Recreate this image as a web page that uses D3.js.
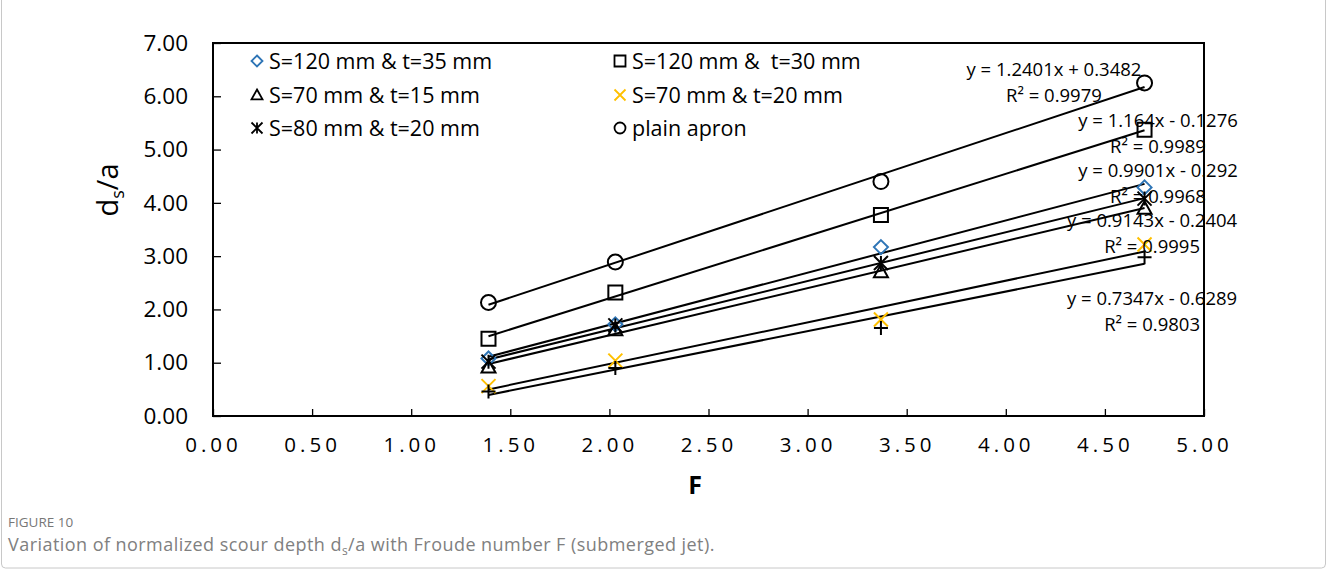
<!DOCTYPE html>
<html>
<head>
<meta charset="utf-8">
<script src="https://cdn.jsdelivr.net/npm/d3@7"></script>
<style>
  body { margin: 0; background: #fff; }
  text { font-family: "Open Sans", "Noto Sans", sans-serif; }
</style>
</head>
<body>
<div id="chart"></div>
<script>
/* ---------------------------------------------- Data ---------------------------------------------- */

const froude = [1.39, 2.03, 3.37, 4.70];

const seriesNames = [
    "S=120 mm & t=35 mm",
    "S=120 mm &  t=30 mm",
    "S=70 mm & t=15 mm",
    "S=70 mm & t=20 mm",
    "S=80 mm & t=20 mm",
    "plain apron",
    "plain 2"
];

const diamondValues  = [1.08, 1.72, 3.17, 4.29];
const squareValues   = [1.45, 2.32, 3.77, 5.37];
const triangleValues = [0.92, 1.62, 2.71, 3.90];
const crossValues    = [0.56, 1.04, 1.81, 3.22];
const asteriskValues = [1.02, 1.70, 2.87, 4.08];
const circleValues   = [2.13, 2.89, 4.40, 6.25];
const plusValues     = [0.46, 0.90, 1.65, 2.98];

const xTicks = [0, 0.5, 1, 1.5, 2, 2.5, 3, 3.5, 4, 4.5, 5];
const yTicks = [0, 1, 2, 3, 4, 5, 6, 7];

// trendline labels as printed on the chart
const eqLines = [
    ["y = 1.2401x + 0.3482", "R² = 0.9979"],
    ["y = 1.164x - 0.1276", "R² = 0.9989"],
    ["y = 0.9901x - 0.292", "R² = 0.9968"],
    ["y = 0.9143x - 0.2404", "R² = 0.9995"],
    ["y = 0.7347x - 0.6289", "R² = 0.9803"]
];
const eqAnchorX = [4.243, 4.768, 4.768, 4.738, 4.738];
const eqAnchorY = [6.493, 5.554, 4.616, 3.665, 2.196];

/* ---------------------------------------------- Markers ---------------------------------------------- */

function markerPath(kind, r) {
    const p = d3.path();
    if (kind === "diamond") {
        p.moveTo(0, -r); p.lineTo(r, 0); p.lineTo(0, r); p.lineTo(-r, 0); p.closePath();
    } else if (kind === "square") {
        p.rect(-r, -r, 2 * r, 2 * r);
    } else if (kind === "triangle") {
        p.moveTo(0, -r); p.lineTo(r, r * 0.8); p.lineTo(-r, r * 0.8); p.closePath();
    } else if (kind === "cross") {
        p.moveTo(-r, -r); p.lineTo(r, r); p.moveTo(r, -r); p.lineTo(-r, r);
    } else if (kind === "asterisk") {
        p.moveTo(-r, -r); p.lineTo(r, r); p.moveTo(r, -r); p.lineTo(-r, r);
        p.moveTo(0, -r); p.lineTo(0, r);
    } else if (kind === "circle") {
        p.arc(0, 0, r, 0, 2 * Math.PI);
    } else if (kind === "plus") {
        p.moveTo(-r, 0); p.lineTo(r, 0); p.moveTo(0, -r); p.lineTo(0, r);
    }
    return p.toString();
}

const series = [
    { name: seriesNames[0], values: diamondValues, kind: "diamond", color: "#2E75B6", r: 7, legend: [0, 0] },
    { name: seriesNames[1], values: squareValues, kind: "square", color: "#000", r: 7, legend: [1, 0] },
    { name: seriesNames[2], values: triangleValues, kind: "triangle", color: "#000", r: 7, legend: [0, 1] },
    { name: seriesNames[3], values: crossValues, kind: "cross", color: "#FFC000", r: 7, legend: [1, 1] },
    { name: seriesNames[4], values: asteriskValues, kind: "asterisk", color: "#000", r: 7, legend: [0, 2] },
    { name: seriesNames[5], values: circleValues, kind: "circle", color: "#000", r: 7.5, legend: [1, 2] },
    { name: seriesNames[6], values: plusValues, kind: "plus", color: "#000", r: 7, legend: null }
];

function linearFit(xs, ys) {
    const mx = d3.mean(xs), my = d3.mean(ys);
    const sxy = d3.sum(xs, (x, i) => (x - mx) * (ys[i] - my));
    const sxx = d3.sum(xs, x => (x - mx) * (x - mx));
    const slope = sxy / sxx;
    return { slope: slope, intercept: my - slope * mx };
}

/* ---------------------------------------------- Chart ---------------------------------------------- */

const width = 1327, height = 581;
const svg = d3.select("#chart").append("svg")
    .attr("width", width)
    .attr("height", height);

// figure frame
svg.append("rect")
    .attr("x", 1.5).attr("y", -10)
    .attr("width", width - 3).attr("height", 578)
    .attr("rx", 4)
    .attr("fill", "none")
    .attr("stroke", "#c8c8c8")
    .attr("stroke-width", 1);

const plot = { left: 213, right: 1204, top: 43, bottom: 416 };

const x = d3.scaleLinear().domain([0, 5]).range([plot.left, plot.right]);
const y = d3.scaleLinear().domain([0, 7]).range([plot.bottom, plot.top]);

// axes with inside ticks
const xAxis = svg.append("g")
    .attr("transform", `translate(0, ${plot.bottom})`)
    .call(d3.axisBottom(x).tickValues(xTicks).tickFormat(d3.format(".2f")).tickSizeInner(-7).tickSizeOuter(0).tickPadding(21));
xAxis.select(".domain").remove();
xAxis.selectAll("line").attr("stroke", "#000").attr("stroke-width", 1.3);
xAxis.selectAll("text")
    .attr("fill", "#000")
    .style("font-size", "20.5px")
    .style("letter-spacing", "4px");

const yAxis = svg.append("g")
    .attr("transform", `translate(${plot.left}, 0)`)
    .call(d3.axisLeft(y).tickValues(yTicks).tickFormat(d3.format(".2f")).tickSizeInner(-8).tickSizeOuter(0).tickPadding(25));
yAxis.select(".domain").remove();
yAxis.selectAll("line").attr("stroke", "#000").attr("stroke-width", 1.3);
yAxis.selectAll("text")
    .attr("fill", "#000")
    .style("font-size", "22.5px");

// plot area border
svg.append("rect")
    .attr("x", plot.left).attr("y", plot.top)
    .attr("width", plot.right - plot.left).attr("height", plot.bottom - plot.top)
    .attr("fill", "none")
    .attr("stroke", "#000")
    .attr("stroke-width", 2);

// trendlines
series.forEach(function (s) {
    const fit = linearFit(froude, s.values);
    const x0 = d3.min(froude), x1 = d3.max(froude);
    svg.append("line")
        .attr("x1", x(x0)).attr("y1", y(fit.slope * x0 + fit.intercept))
        .attr("x2", x(x1)).attr("y2", y(fit.slope * x1 + fit.intercept))
        .attr("stroke", "#000")
        .attr("stroke-width", 2);
});

// markers
series.forEach(function (s) {
    svg.selectAll(null)
        .data(froude.map((f, i) => [f, s.values[i]]))
        .enter()
        .append("path")
        .attr("transform", d => `translate(${x(d[0])}, ${y(d[1])})`)
        .attr("d", markerPath(s.kind, s.r))
        .attr("fill", "none")
        .attr("stroke", s.color)
        .attr("stroke-width", 2);
});

// trendline equations
eqLines.forEach(function (lines, i) {
    const t = svg.append("text")
        .attr("x", x(eqAnchorX[i]))
        .attr("y", y(eqAnchorY[i]))
        .attr("text-anchor", "middle")
        .style("font-size", "18.5px")
        .attr("fill", "#000");
    lines.forEach(function (line, j) {
        t.append("tspan")
            .attr("x", x(eqAnchorX[i]))
            .attr("dy", j === 0 ? "0.35em" : "26px")
            .text(line);
    });
});

// legend
const legendCols = [257, 620];
const legendRows = [61, 95, 128];
series.filter(s => s.legend).forEach(function (s) {
    const lx = legendCols[s.legend[0]], ly = legendRows[s.legend[1]];
    svg.append("path")
        .attr("transform", `translate(${lx}, ${ly})`)
        .attr("d", markerPath(s.kind, 5.5))
        .attr("fill", "none")
        .attr("stroke", s.color)
        .attr("stroke-width", 1.8);
    svg.append("text")
        .attr("x", lx + 12)
        .attr("y", ly)
        .attr("dy", "0.35em")
        .style("font-size", "21.5px")
        .style("white-space", "pre")
        .attr("fill", "#000")
        .text(s.name);
});

// axis titles
svg.append("text")
    .attr("x", 695).attr("y", 485)
    .attr("dy", "0.35em")
    .attr("text-anchor", "middle")
    .style("font-size", "25px")
    .style("font-weight", "bold")
    .text("F");

const yTitle = svg.append("text")
    .attr("transform", "translate(118, 190) rotate(-90)")
    .attr("text-anchor", "middle")
    .style("font-size", "29px");
yTitle.append("tspan").text("d");
yTitle.append("tspan").attr("dy", "6px").style("font-size", "18px").text("s");
yTitle.append("tspan").attr("dy", "-6px").text("/a");

// caption
svg.append("text")
    .attr("x", 8).attr("y", 527)
    .style("font-size", "13.5px")
    .attr("fill", "#777")
    .text("FIGURE 10");

const caption = svg.append("text")
    .attr("x", 8).attr("y", 551)
    .style("font-size", "18px")
    .style("letter-spacing", "0.45px")
    .attr("fill", "#808080");
caption.append("tspan").text("Variation of normalized scour depth d");
caption.append("tspan").attr("dy", "4px").style("font-size", "12px").text("s");
caption.append("tspan").attr("dy", "-4px").text("/a with Froude number F (submerged jet).");
</script>
</body>
</html>
